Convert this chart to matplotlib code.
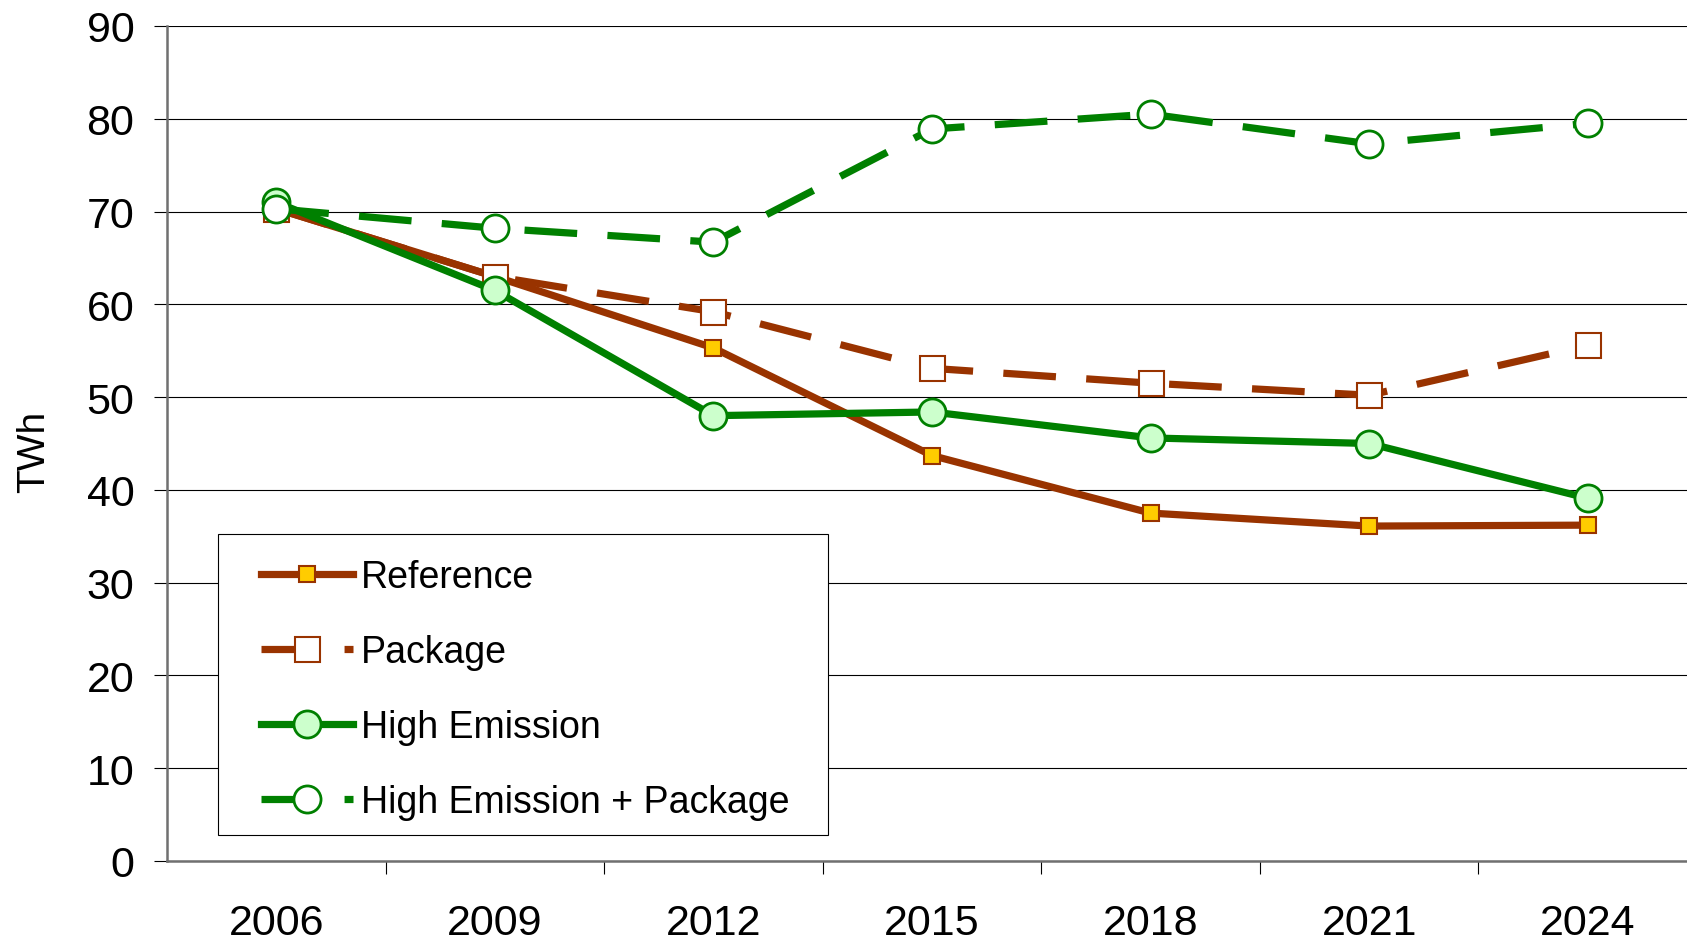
import matplotlib
matplotlib.use('Agg')
import matplotlib.pyplot as plt
from matplotlib.patches import Rectangle

years = ['2006', '2009', '2012', '2015', '2018', '2021', '2024']
reference = [70.3, 63.0, 55.3, 43.7, 37.5, 36.1, 36.2]
package = [70.3, 63.0, 59.2, 53.1, 51.5, 50.2, 55.6]
high_emission = [71.0, 61.5, 48.0, 48.4, 45.6, 45.0, 39.1]
high_emission_package = [70.3, 68.2, 66.7, 78.9, 80.5, 77.3, 79.5]
y_ticks = [0, 10, 20, 30, 40, 50, 60, 70, 80, 90]

brown = '#993300'
green = '#008000'

plt.rcParams['font.family'] = ['Liberation Sans', 'DejaVu Sans']

fig = plt.figure(figsize=(16.87, 9.45), dpi=100)
# the plot area runs a bit past the right edge of the picture, as in the original
ax = fig.add_axes([167 / 1687, 83 / 945, 1530 / 1687, 835 / 945])

x = list(range(len(years)))
lw = 5.2
dash = (7.3, 4.2)  # long dashes like the office chart

ax.plot(x, reference, color=brown, lw=lw, marker='s', markersize=12,
        markerfacecolor='#FFCC00', markeredgecolor=brown, markeredgewidth=1.5,
        label='Reference', zorder=3)
ax.plot(x, package, color=brown, lw=lw, dashes=dash, marker='s', markersize=18,
        markerfacecolor='white', markeredgecolor=brown, markeredgewidth=1.5,
        label='Package', zorder=3)
ax.plot(x, high_emission, color=green, lw=lw, marker='o', markersize=19.5,
        markerfacecolor='#CCFFCC', markeredgecolor=green, markeredgewidth=2,
        label='High Emission', zorder=4)
ax.plot(x, high_emission_package, color=green, lw=lw, dashes=dash, marker='o', markersize=19.5,
        markerfacecolor='white', markeredgecolor=green, markeredgewidth=2,
        label='High Emission + Package', zorder=4)

ax.set_xlim(-0.5, len(years) - 0.5)
ax.set_ylim(0, 90)
ax.set_yticks(y_ticks)
ax.set_xticks(x)
ax.set_xticklabels(years)
ax.set_xticks([i + 0.5 for i in range(len(years) - 1)], minor=True)  # ticks between categories

ax.grid(axis='y', color='black', lw=0.8, zorder=0)
ax.set_axisbelow(True)

for side in ['top', 'right']:
    ax.spines[side].set_visible(False)
for side in ['left', 'bottom']:
    ax.spines[side].set_color('#707070')
    ax.spines[side].set_linewidth(1.8)

ax.tick_params(axis='y', direction='out', length=9.5, width=0.8, color='black', labelsize=31, pad=14)
ax.tick_params(axis='x', which='major', length=0, labelsize=31, pad=30)
ax.tick_params(axis='x', which='minor', direction='out', length=9.5, width=0.8, color='black')

fig.text(34 / 1687, 0.522, 'TWh', rotation=90, ha='center', va='center', fontsize=28)

# legend box drawn by hand so the side padding can be wider than the top padding
ax.add_patch(Rectangle((218 / 1687, 1 - 836 / 945), 610 / 1687, 301 / 945,
                       transform=fig.transFigure, facecolor='white', edgecolor='black',
                       lw=0.8, zorder=5, clip_on=False))
leg = ax.legend(loc='upper left', bbox_to_anchor=(261 / 1687, 1 - 560 / 945),
                bbox_transform=fig.transFigure, fontsize=27, frameon=False,
                handlelength=2.44, handletextpad=0.23, labelspacing=1.04,
                borderpad=0, borderaxespad=0)
leg.set_zorder(6)

fig.savefig('out.png', dpi=100)
